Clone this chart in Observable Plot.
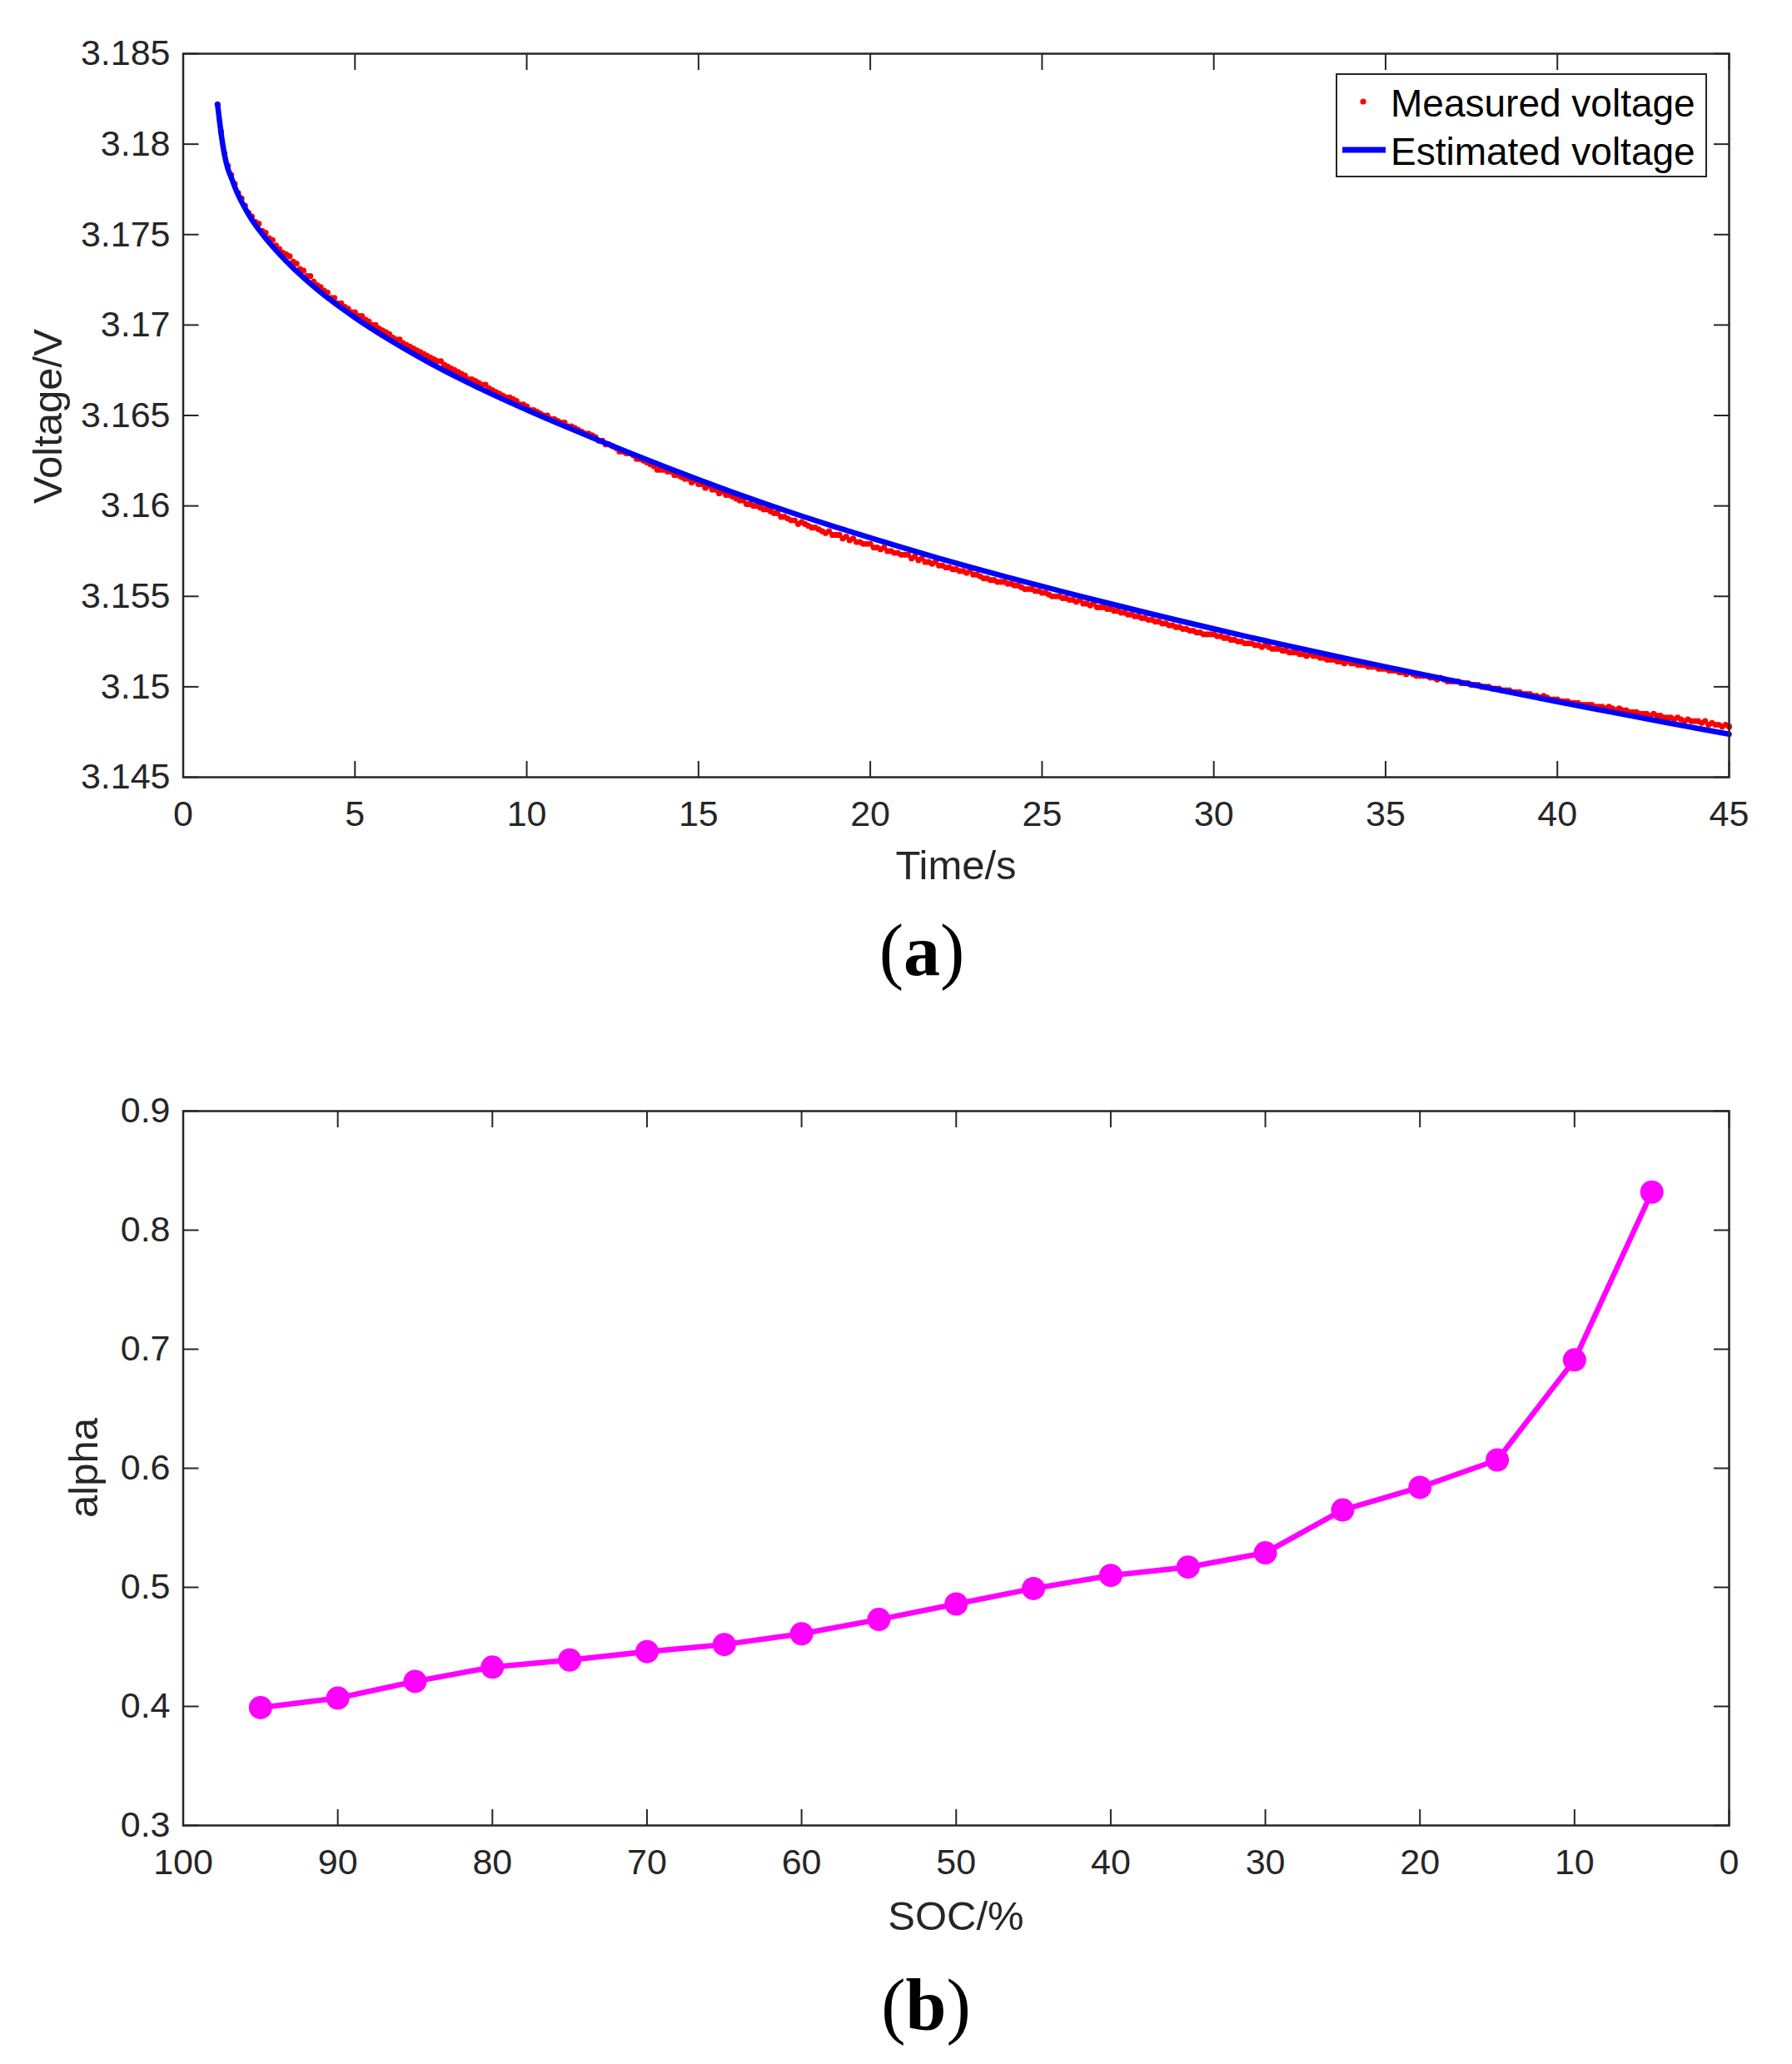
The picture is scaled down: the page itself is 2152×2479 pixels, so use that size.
<!DOCTYPE html>
<html>
<head>
<meta charset="utf-8">
<script src="https://cdn.jsdelivr.net/npm/d3@7"></script>
<script src="https://cdn.jsdelivr.net/npm/@observablehq/plot@0.6"></script>
<style>
html, body { margin: 0; padding: 0; background: #fff; }
#wrap { position: relative; width: 2152px; height: 2479px; overflow: hidden; }
#wrap > svg { position: absolute; left: 0; }
</style>
</head>
<body>
<div id="wrap"></div>
<script>
// ---------- data ----------
const timeTicks = [0, 5, 10, 15, 20, 25, 30, 35, 40, 45];
const voltTicks = [3.145, 3.15, 3.155, 3.16, 3.165, 3.17, 3.175, 3.18, 3.185];
const socTicks = [100, 90, 80, 70, 60, 50, 40, 30, 20, 10, 0];
const alphaTicks = [0.3, 0.4, 0.5, 0.6, 0.7, 0.8, 0.9];

// measured voltage sampled every 0.1 s starting at 1.0 s
const measuredStart = 1.0;
const measuredStep = 0.1;
const measuredVoltage = [
  3.1822,3.1807,3.1795,3.1788,3.1783,3.1778,3.1773,3.1770,3.1766,3.1762,
  3.1760,3.1757,3.1756,3.1752,3.1751,3.1748,3.1747,3.1744,3.1742,3.1740,
  3.1739,3.1738,3.1735,3.1734,3.1731,3.1730,3.1727,3.1727,3.1724,3.1722,
  3.1721,3.1719,3.1718,3.1715,3.1715,3.1712,3.1712,3.1710,3.1709,3.1707,
  3.1707,3.1705,3.1705,3.1703,3.1702,3.1700,3.1700,3.1698,3.1697,3.1696,
  3.1695,3.1693,3.1692,3.1692,3.1690,3.1689,3.1688,3.1687,3.1686,3.1685,
  3.1684,3.1683,3.1682,3.1681,3.1680,3.1680,3.1678,3.1677,3.1676,3.1675,
  3.1674,3.1673,3.1672,3.1670,3.1670,3.1669,3.1668,3.1667,3.1667,3.1665,
  3.1664,3.1663,3.1662,3.1661,3.1660,3.1660,3.1659,3.1658,3.1656,3.1656,
  3.1655,3.1653,3.1653,3.1652,3.1651,3.1650,3.1650,3.1648,3.1648,3.1647,
  3.1646,3.1646,3.1644,3.1644,3.1643,3.1642,3.1641,3.1640,3.1640,3.1639,
  3.1638,3.1636,3.1636,3.1634,3.1634,3.1633,3.1632,3.1630,3.1630,3.1629,
  3.1629,3.1628,3.1626,3.1626,3.1625,3.1624,3.1623,3.1622,3.1620,3.1620,
  3.1620,3.1619,3.1619,3.1617,3.1617,3.1616,3.1615,3.1615,3.1613,3.1614,
  3.1612,3.1612,3.1610,3.1611,3.1609,3.1609,3.1607,3.1608,3.1606,3.1606,
  3.1605,3.1604,3.1603,3.1603,3.1601,3.1601,3.1600,3.1600,3.1599,3.1598,
  3.1598,3.1597,3.1596,3.1596,3.1594,3.1594,3.1593,3.1592,3.1592,3.1590,
  3.1591,3.1590,3.1589,3.1588,3.1588,3.1587,3.1586,3.1585,3.1586,3.1584,
  3.1584,3.1584,3.1582,3.1583,3.1581,3.1582,3.1580,3.1580,3.1579,3.1579,
  3.1579,3.1577,3.1577,3.1576,3.1577,3.1575,3.1575,3.1574,3.1574,3.1573,
  3.1573,3.1573,3.1571,3.1572,3.1570,3.1571,3.1569,3.1569,3.1568,3.1569,
  3.1567,3.1567,3.1566,3.1566,3.1565,3.1565,3.1564,3.1564,3.1563,3.1564,
  3.1562,3.1562,3.1561,3.1560,3.1560,3.1559,3.1559,3.1558,3.1558,3.1558,
  3.1557,3.1557,3.1556,3.1556,3.1555,3.1554,3.1554,3.1554,3.1553,3.1553,
  3.1552,3.1552,3.1551,3.1550,3.1550,3.1550,3.1549,3.1549,3.1548,3.1548,
  3.1547,3.1548,3.1546,3.1546,3.1545,3.1546,3.1544,3.1544,3.1544,3.1543,
  3.1543,3.1542,3.1542,3.1541,3.1541,3.1540,3.1540,3.1539,3.1539,3.1538,
  3.1538,3.1537,3.1537,3.1536,3.1536,3.1535,3.1535,3.1534,3.1534,3.1533,
  3.1533,3.1532,3.1532,3.1531,3.1531,3.1530,3.1530,3.1529,3.1529,3.1529,
  3.1529,3.1528,3.1528,3.1527,3.1527,3.1526,3.1526,3.1525,3.1525,3.1524,
  3.1524,3.1524,3.1523,3.1523,3.1522,3.1523,3.1522,3.1521,3.1521,3.1521,
  3.1520,3.1520,3.1519,3.1519,3.1519,3.1518,3.1518,3.1517,3.1518,3.1517,
  3.1517,3.1516,3.1516,3.1515,3.1515,3.1515,3.1514,3.1514,3.1513,3.1514,
  3.1513,3.1513,3.1512,3.1512,3.1512,3.1511,3.1511,3.1511,3.1510,3.1510,
  3.1510,3.1509,3.1509,3.1509,3.1508,3.1508,3.1507,3.1508,3.1507,3.1506,
  3.1506,3.1506,3.1506,3.1505,3.1505,3.1504,3.1505,3.1504,3.1503,3.1503,
  3.1503,3.1503,3.1502,3.1502,3.1502,3.1501,3.1501,3.1501,3.1500,3.1500,
  3.1500,3.1499,3.1499,3.1499,3.1498,3.1498,3.1498,3.1497,3.1497,3.1497,
  3.1496,3.1496,3.1496,3.1495,3.1495,3.1494,3.1495,3.1494,3.1493,3.1493,
  3.1493,3.1492,3.1492,3.1492,3.1491,3.1491,3.1491,3.1490,3.1490,3.1490,
  3.1490,3.1489,3.1489,3.1489,3.1488,3.1489,3.1488,3.1487,3.1488,3.1487,
  3.1487,3.1486,3.1486,3.1486,3.1485,3.1485,3.1485,3.1484,3.1485,3.1484,
  3.1484,3.1483,3.1483,3.1483,3.1482,3.1483,3.1482,3.1481,3.1482,3.1481,
  3.1481,3.1481,3.1480,3.1481,3.1479,3.1480,3.1479,3.1479,3.1478,3.1479,
  3.1478
];

const estimatedTime = [1.0,1.05,1.1,1.15,1.2,1.25,1.3,1.4,1.5,1.6,1.8,2.0,2.2,2.4,2.7,3.0,3.5,4,5,6,7,8,9,10,11,12,13,14,15,16,17,18,19,20,21,22,23,24,25,26,27,28,29,30,31,32,33,34,35,36,37,38,39,40,41,42,43,44,45];
const estimatedVoltage = [3.1822,3.1814,3.18065,3.1800,3.17945,3.1790,3.17865,3.17815,3.17765,3.1772,3.17646,3.17582,3.17528,3.17479,3.17413,3.17353,3.17262,3.17181,3.17041,3.16919,3.16809,3.16709,3.16617,3.16531,3.16449,3.16370,3.16293,3.16218,3.16145,3.16075,3.16008,3.15944,3.15883,3.15824,3.15766,3.157105,3.15657,3.156055,3.155555,3.155065,3.154585,3.154115,3.153655,3.153205,3.152765,3.152335,3.151915,3.151505,3.151105,3.15071,3.15032,3.149935,3.149555,3.14918,3.14881,3.148445,3.148085,3.14773,3.14738];

const soc = [95, 90, 85, 80, 75, 70, 65, 60, 55, 50, 45, 40, 35, 30, 25, 20, 15, 10, 5];
const alpha = [0.399, 0.407, 0.421, 0.433, 0.439, 0.446, 0.452, 0.461, 0.473, 0.486, 0.499, 0.510, 0.517, 0.529, 0.565, 0.584, 0.607, 0.691, 0.832];

// ---------- derived tables ----------
const measured = measuredVoltage.map((v, i) => ({t: +(measuredStart + i * measuredStep).toFixed(1), v}));
const estimated = estimatedTime.map((t, i) => ({t, v: estimatedVoltage[i]}));
const alphaData = soc.map((s, i) => ({soc: s, alpha: alpha[i]}));

// ---------- styling ----------
const INK = "#262626";
const FONT = "'Liberation Sans', Arial, Helvetica, sans-serif";
const TICK_LEN = 19;

function boxTicks(xt, yt) {
  const s = {stroke: INK, strokeWidth: 2, tickFormat: () => "", label: null, tickSize: TICK_LEN};
  return [
    Plot.axisX({...s, anchor: "bottom", ticks: xt, dy: -TICK_LEN}),
    Plot.axisX({...s, anchor: "top", ticks: xt, dy: TICK_LEN}),
    Plot.axisY({...s, anchor: "left", ticks: yt, dx: TICK_LEN}),
    Plot.axisY({...s, anchor: "right", ticks: yt, dx: -TICK_LEN})
  ];
}
function labelAxes(xt, yt) {
  return [
    Plot.axisX({anchor: "bottom", ticks: xt, tickSize: 0, tickPadding: 28, tickFormat: d => String(d), label: null, fontSize: 43, fill: INK}),
    Plot.axisY({anchor: "left", ticks: yt, tickSize: 0, tickPadding: 15.5, tickFormat: d => String(d), label: null, fontSize: 43, fill: INK})
  ];
}
const baseStyle = {fontFamily: FONT, fontSize: "43px", color: INK, background: "transparent", overflow: "visible"};

// ---------- panel (a) ----------
const plotA = Plot.plot({
  width: 2152, height: 1240,
  marginTop: 64, marginBottom: 307, marginLeft: 219.5, marginRight: 76,
  style: baseStyle,
  x: {domain: [0, 45]},
  y: {domain: [3.145, 3.185]},
  marks: [
    Plot.dot(measured, {x: "t", y: "v", r: 3.6, fill: "#ff0000", stroke: null}),
    Plot.line(estimated, {x: "t", y: "v", stroke: "#0000ff", strokeWidth: 6.5, curve: "monotone-x"}),
    ...labelAxes(timeTicks, voltTicks),
    ...boxTicks(timeTicks, voltTicks),
    Plot.frame({stroke: INK, strokeWidth: 2.5})
  ]
});
plotA.style.top = "0px";

// ---------- panel (b) ----------
const plotB = Plot.plot({
  width: 2152, height: 1239,
  marginTop: 94, marginBottom: 287, marginLeft: 219.5, marginRight: 76,
  style: baseStyle,
  x: {domain: [100, 0]},
  y: {domain: [0.3, 0.9]},
  marks: [
    Plot.line(alphaData, {x: "soc", y: "alpha", stroke: "#ff00ff", strokeWidth: 6.5}),
    Plot.dot(alphaData, {x: "soc", y: "alpha", r: 14, fill: "#ff00ff", stroke: null}),
    ...labelAxes(socTicks, alphaTicks),
    ...boxTicks(socTicks, alphaTicks),
    Plot.frame({stroke: INK, strokeWidth: 2.5})
  ]
});
plotB.style.top = "1240px";

const wrap = document.getElementById("wrap");
wrap.appendChild(plotA);
wrap.appendChild(plotB);

// ---------- titles, legend, panel captions ----------
const ns = "http://www.w3.org/2000/svg";
const over = document.createElementNS(ns, "svg");
over.setAttribute("width", 2152);
over.setAttribute("height", 2479);
over.style.top = "0px";
over.style.pointerEvents = "none";
over.innerHTML = `
  <g font-family="${FONT}" fill="${INK}" font-size="49" text-anchor="middle">
    <text x="1148" y="1056">Time/s</text>
    <text transform="translate(74,500) rotate(-90)">Voltage/V</text>
    <text x="1148" y="2318">SOC/%</text>
    <text transform="translate(117,1763) rotate(-90)">alpha</text>
  </g>
  <g>
    <rect x="1605" y="89" width="444" height="123" fill="#fff" stroke="${INK}" stroke-width="2"/>
    <circle cx="1637" cy="122" r="3.6" fill="#ff0000"/>
    <line x1="1612" x2="1664" y1="180" y2="180" stroke="#0000ff" stroke-width="7"/>
    <g font-family="${FONT}" font-size="46" fill="#000">
      <text x="1670" y="140">Measured voltage</text>
      <text x="1670" y="198">Estimated voltage</text>
    </g>
  </g>
  <g font-family="'Liberation Serif', 'Times New Roman', serif" font-size="88" fill="#000" text-anchor="middle">
    <text x="1107" y="1171">(<tspan font-weight="bold">a</tspan>)</text>
    <text x="1112" y="2438">(<tspan font-weight="bold">b</tspan>)</text>
  </g>
`;
wrap.appendChild(over);
</script>
</body>
</html>
